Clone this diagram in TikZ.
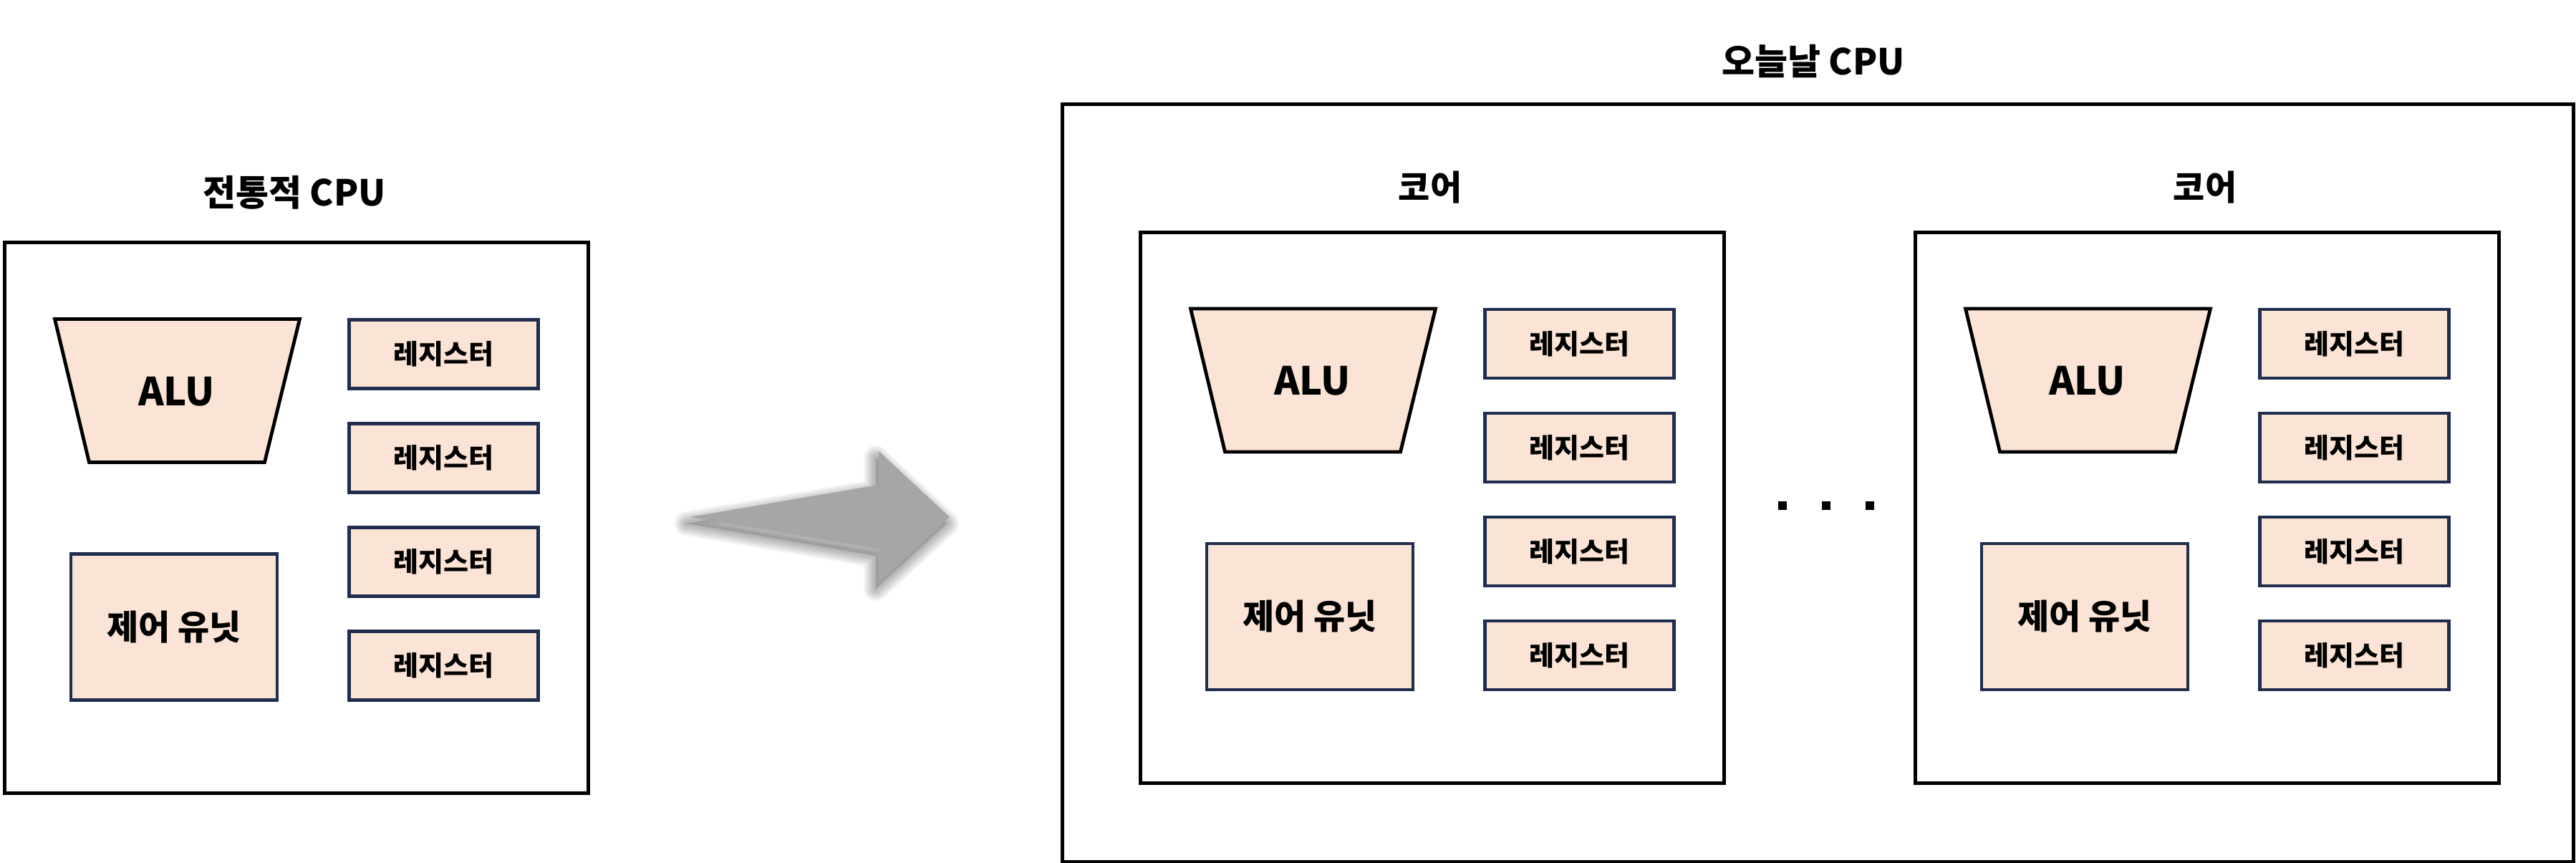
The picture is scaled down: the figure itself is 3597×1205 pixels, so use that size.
\documentclass[tikz,border=0pt]{standalone}
\usepackage{fontspec}
\setmainfont{Noto Sans CJK KR}
\definecolor{peach}{HTML}{FBE4D5}
\definecolor{navy}{HTML}{1F2D4F}
\definecolor{arrowgray}{HTML}{A6A6A6}
\tikzset{
  cpubox/.style={draw, line width=1.25pt, minimum width=203.75pt, minimum height=192.25pt, inner sep=0pt},
  cputitle/.style={font=\bfseries\fontsize{12.5}{14}\selectfont, inner sep=0pt},
  alushape/.style={draw, fill=peach, line width=1.2pt, line join=miter},
  alutext/.style={font=\bfseries\fontsize{13.5}{15}\selectfont, inner sep=0pt},
  cu/.style={draw=navy, fill=peach, line width=1.2pt, minimum width=72pt, minimum height=51pt, inner sep=0pt, font=\bfseries\fontsize{12}{13}\selectfont},
  reg/.style={draw=navy, fill=peach, line width=1.2pt, minimum width=66pt, minimum height=24pt, inner sep=0pt, font=\bfseries\fontsize{9.5}{11}\selectfont},
  dotsq/.style={fill=black, minimum size=3pt, inner sep=0pt},
}
\newcommand\cpublock[5]{%
\begin{scope}[shift={(#2,#3)}]
  \node[cpubox, anchor=north west] (#1box) at (0,0) {};
  \node[cputitle] (#1title) at (407.5,#5) {#4};
  \path[alushape] (73,109) -- (415,109) -- (366,309) -- (121,309) -- cycle;
  \node[alutext] (#1alu) at (243,210) {ALU};
  \node[cu] (#1cu) at (239.5,539) {제어 유닛};
  \node[reg] (#1ra) at (616,158) {레지스터};
  \node[reg] (#1rb) at (616,303) {레지스터};
  \node[reg] (#1rc) at (616,448) {레지스터};
  \node[reg] (#1rd) at (616,593) {레지스터};
\end{scope}}
\begin{document}
\begin{tikzpicture}[x=0.25pt,y=-0.25pt]
\useasboundingbox (0,0) rectangle (3597,1205);
% left: traditional CPU
\cpublock{L}{3.5}{336.5}{전통적 CPU}{-68}
% arrow with soft shadow
\foreach \w in {34,30,26,22,18,14,10,6} {
  \draw[black, opacity=0.04, line width=\w*0.25pt, line join=round, shift={(-4,9)}]
    (963,722) -- (1227,677) -- (1227,630) -- (1326,722) -- (1227,813) -- (1227,767) -- cycle;
}
\fill[black, opacity=0.15, shift={(-4,9)}]
  (963,722) -- (1227,677) -- (1227,630) -- (1326,722) -- (1227,813) -- (1227,767) -- cycle;
\coordinate (atail) at (963,722);
\coordinate (atip) at (1326,722);
\fill[arrowgray] (atail) -- (1227,677) -- (1227,630) -- (atip) -- (1227,813) -- (1227,767) -- cycle;
% right: modern CPU
\node[draw, line width=1.25pt, minimum width=527.5pt, minimum height=264.4pt, inner sep=0pt, anchor=north west] (outer) at (1481,143.5) {};
\node[cputitle] (outertitle) at (2532,86) {오늘날 CPU};
\cpublock{A}{1589.5}{322}{{\fontsize{12}{13}\selectfont 코어}}{-60}
\cpublock{B}{2671.5}{322}{{\fontsize{12}{13}\selectfont 코어}}{-60}
\node[dotsq] (d1) at (2489,706) {};
\node[dotsq] (d2) at (2550,706) {};
\node[dotsq] (d3) at (2611,706) {};
\end{tikzpicture}
\end{document}
